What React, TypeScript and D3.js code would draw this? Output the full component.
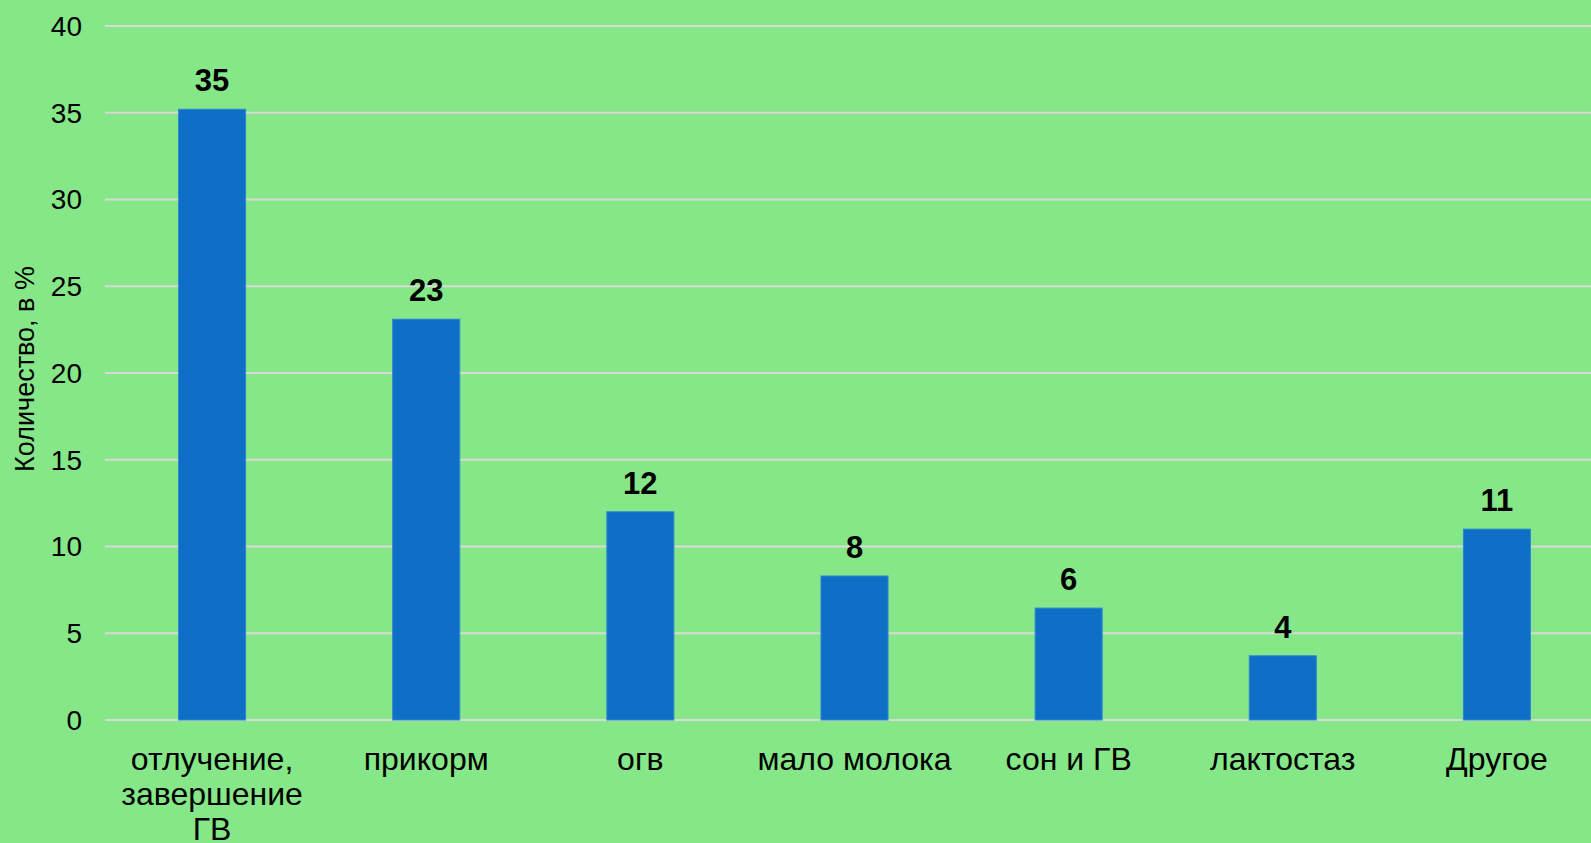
import React, { useRef, useEffect } from 'react';
import * as d3 from 'd3';

const categories = ['отлучение, завершение ГВ', 'прикорм', 'огв', 'мало молока', 'сон и ГВ', 'лактостаз', 'Другое'];
const values = [35.2, 23.1, 12.0, 8.3, 6.45, 3.7, 11.0];
const yTicks = [0, 5, 10, 15, 20, 25, 30, 35, 40];
const yTitle = 'Количество, в %';

const WIDTH = 1591;
const HEIGHT = 843;
const FONT = '"Liberation Sans", Arial, sans-serif';

// wrap long category labels into several lines
function wrap(sel: any, maxWidth: number) {
  sel.each(function (this: SVGTextElement) {
    const text = d3.select(this);
    const words = text.text().split(/\s+/);
    const x = text.attr('x');
    const y = text.attr('y');
    text.text(null);
    let line: string[] = [];
    let lineNo = 0;
    let tspan = text.append('tspan').attr('x', x).attr('y', y);
    words.forEach(w => {
      line.push(w);
      tspan.text(line.join(' '));
      if ((tspan.node() as SVGTextContentElement).getComputedTextLength() > maxWidth && line.length > 1) {
        line.pop();
        tspan.text(line.join(' '));
        line = [w];
        lineNo++;
        tspan = text.append('tspan').attr('x', x).attr('y', +y + lineNo * 35).text(w);
      }
    });
  });
}

const BarChart = () => {
  const svgRef = useRef<SVGSVGElement>(null);

  useEffect(() => {
    const svg = d3.select(svgRef.current);
    svg.selectAll('*').remove();

    const left = 105;
    const right = 1604; // plot runs past the picture edge
    const top = 26;
    const bottom = 720;

    const x = d3.scaleBand<string>()
      .domain(categories)
      .range([left, right])
      .paddingInner(0.687)
      .paddingOuter(0.3435);

    const step = x.step();

    const y = d3.scaleLinear()
      .domain([0, 40])
      .range([bottom, top]);

    svg.append('rect')
      .attr('width', WIDTH)
      .attr('height', HEIGHT)
      .attr('fill', '#85e787');

    // gridlines
    svg.append('g')
      .selectAll('line')
      .data(yTicks)
      .join('line')
      .attr('x1', left)
      .attr('x2', right)
      .attr('y1', d => y(d))
      .attr('y2', d => y(d))
      .attr('stroke', '#d9d9d9')
      .attr('stroke-width', 2);

    // y tick labels
    svg.append('g')
      .selectAll('text')
      .data(yTicks)
      .join('text')
      .attr('x', 82)
      .attr('y', d => y(d))
      .attr('dy', '0.35em')
      .attr('text-anchor', 'end')
      .attr('font-family', FONT)
      .attr('font-size', 28)
      .attr('fill', '#000')
      .text(d => d);

    // bars
    svg.append('g')
      .selectAll('rect')
      .data(values)
      .join('rect')
      .attr('x', (d, i) => x(categories[i])!)
      .attr('y', d => y(d))
      .attr('width', x.bandwidth())
      .attr('height', d => y(0) - y(d))
      .attr('fill', '#0f6fc6')
      .attr('stroke', '#2b86d6')
      .attr('stroke-width', 1);

    // value labels
    svg.append('g')
      .selectAll('text')
      .data(values)
      .join('text')
      .attr('x', (d, i) => x(categories[i])! + x.bandwidth() / 2)
      .attr('y', d => y(d) - 18)
      .attr('text-anchor', 'middle')
      .attr('font-family', FONT)
      .attr('font-size', 31)
      .attr('font-weight', 'bold')
      .attr('fill', '#000')
      .text(d => Math.round(d));

    // category labels
    svg.append('g')
      .selectAll('text')
      .data(categories)
      .join('text')
      .attr('x', d => x(d)! + x.bandwidth() / 2)
      .attr('y', 770)
      .attr('text-anchor', 'middle')
      .attr('font-family', FONT)
      .attr('font-size', 32)
      .attr('fill', '#000')
      .text(d => d)
      .call(wrap, step);

    // y axis title
    svg.append('text')
      .attr('transform', `translate(34,${(top + bottom) / 2 - 4}) rotate(-90)`)
      .attr('text-anchor', 'middle')
      .attr('font-family', FONT)
      .attr('font-size', 27)
      .attr('fill', '#000')
      .text(yTitle);
  }, []);

  return <svg ref={svgRef} width={WIDTH} height={HEIGHT} style={{ display: 'block' }} />;
};

export default function App() {
  return (
    <div style={{ position: 'fixed', left: 0, top: 0 }}>
      <BarChart />
    </div>
  );
}
